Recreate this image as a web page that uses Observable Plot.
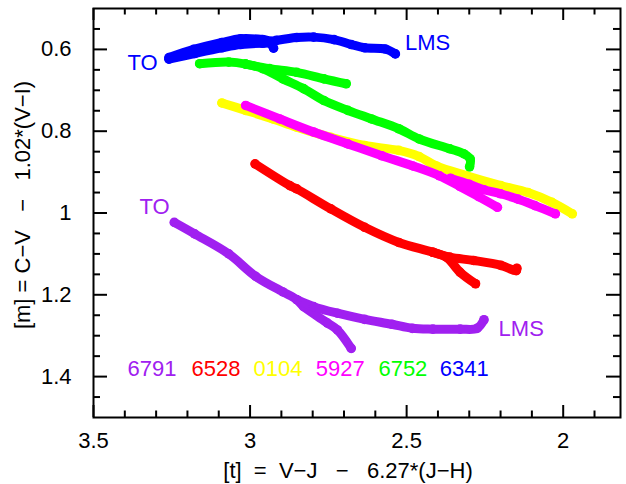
<!DOCTYPE html>
<html>
<head>
<meta charset="utf-8">
<script src="https://cdn.jsdelivr.net/npm/d3@7"></script>
<script src="https://cdn.jsdelivr.net/npm/@observablehq/plot@0.6"></script>
<style>
  html, body { margin: 0; padding: 0; background: #fff; }
  svg { display: block; }
</style>
</head>
<body>
<div id="chart"></div>
<script>
// ---- Data ----
const clusterNames  = ["6791", "6528", "0104", "5927", "6752", "6341"];
const clusterColors = ["#a020f0", "#ff0000", "#ffff00", "#ff00ff", "#00ff00", "#0000ff"];
const legendX = [3.313, 3.109, 2.911, 2.712, 2.512, 2.316];
const legendY = 1.382;

// NGC 6341 (blue): two strands
const track6341a = [[3.259,0.620],[3.180,0.600],[3.090,0.583],[3.030,0.574],[2.960,0.576],[2.930,0.580],[2.916,0.578],[2.851,0.571],[2.797,0.570],[2.732,0.576],[2.677,0.588],[2.634,0.596],[2.568,0.599],[2.536,0.611]];
const track6341b = [[3.259,0.624],[3.177,0.610],[3.090,0.596],[3.030,0.588],[2.960,0.585],[2.935,0.586],[2.925,0.597]];
// NGC 6752 (green)
const track6752a = [[3.161,0.635],[3.068,0.631],[3.014,0.636],[2.960,0.647],[2.895,0.672],[2.829,0.696],[2.764,0.725],[2.688,0.749],[2.612,0.770],[2.525,0.794],[2.460,0.819],[2.362,0.843],[2.318,0.855],[2.297,0.868],[2.299,0.887]];
const track6752b = [[3.014,0.636],[2.938,0.647],[2.851,0.656],[2.764,0.672],[2.693,0.684]];
// 47 Tuc / NGC 0104 (yellow)
const track0104  = [[3.090,0.731],[3.014,0.749],[2.927,0.770],[2.851,0.790],[2.742,0.815],[2.634,0.835],[2.525,0.847],[2.460,0.862],[2.405,0.885],[2.308,0.909],[2.199,0.933],[2.112,0.950],[2.036,0.974],[1.971,1.002]];
// NGC 5927 (magenta)
const track5927a = [[3.014,0.737],[2.905,0.770],[2.797,0.802],[2.688,0.831],[2.579,0.860],[2.480,0.885],[2.395,0.909],[2.330,0.935],[2.270,0.960],[2.210,0.986]];
const track5927b = [[2.360,0.915],[2.300,0.930],[2.253,0.943],[2.200,0.953],[2.145,0.966],[2.090,0.982],[2.025,1.002]];
// NGC 6528 (red)
const track6528a = [[2.984,0.880],[2.873,0.933],[2.851,0.941],[2.742,0.990],[2.634,1.035],[2.525,1.072],[2.416,1.096],[2.373,1.108],[2.329,1.145],[2.280,1.173]];
const track6528b = [[2.416,1.096],[2.362,1.108],[2.286,1.116],[2.199,1.128],[2.150,1.141],[2.148,1.135]];
// NGC 6791 (purple)
const track6791a = [[3.242,1.023],[3.177,1.051],[3.068,1.100],[2.982,1.155],[2.895,1.193],[2.851,1.212],[2.829,1.229],[2.753,1.269],[2.721,1.286],[2.677,1.331]];
const track6791b = [[2.851,1.212],[2.797,1.229],[2.721,1.245],[2.634,1.260],[2.547,1.272],[2.482,1.282],[2.416,1.284],[2.329,1.284],[2.275,1.282],[2.253,1.261]];

// annotations
const annotText  = ["TO", "LMS", "TO", "LMS"];
const annotX     = [3.343, 2.433, 3.305, 2.134];
const annotY     = [0.633, 0.584, 0.985, 1.284];
const annotColor = ["#0000ff", "#0000ff", "#a020f0", "#a020f0"];

// axes
const xMajor = [3.5, 3, 2.5, 2];
const xMinor = [3.4, 3.3, 3.2, 3.1, 2.9, 2.8, 2.7, 2.6, 2.4, 2.3, 2.2, 2.1, 1.9];
const yMajor = [0.6, 0.8, 1, 1.2, 1.4];
const yMinor = [0.55, 0.65, 0.7, 0.75, 0.85, 0.9, 0.95, 1.05, 1.1, 1.15, 1.25, 1.3, 1.35, 1.45];
const xLabel = "[t]\u00a0 =\u00a0 V\u2212J\u00a0\u00a0 \u2212\u00a0\u00a0 6.27*(J\u2212H)";
const yLabel = "[m] = C\u2212V\u00a0\u00a0 \u2212\u00a0\u00a0 1.02*(V\u2212I)";

// ---- Build table ----
const colorOf = name => clusterColors[clusterNames.indexOf(name)];
const tracks = [
  ["0104", "a", track0104],
  ["5927", "a", track5927a], ["5927", "b", track5927b],
  ["6752", "a", track6752a], ["6752", "b", track6752b],
  ["6341", "a", track6341a], ["6341", "b", track6341b],
  ["6528", "a", track6528a], ["6528", "b", track6528b],
  ["6791", "a", track6791a], ["6791", "b", track6791b]
];
const rows = tracks.flatMap(([c, b, pts]) => pts.map(([x, y]) => ({cluster: c, branch: c + b, x, y, color: colorOf(c)})));
const legend = clusterNames.map((n, i) => ({text: n, x: legendX[i], y: legendY, color: clusterColors[i]}));
const annots = annotText.map((t, i) => ({text: t, x: annotX[i], y: annotY[i], color: annotColor[i]}));

const W = 626, H = 484, mL = 93, mR = 6, mT = 8, mB = 67;
const pW = W - mL - mR, pH = H - mT - mB;

const marks = [];
for (const [c, b] of tracks) {
  const sub = rows.filter(r => r.branch === c + b);
  marks.push(Plot.line(sub, {x: "x", y: "y", stroke: colorOf(c), strokeWidth: 9, strokeLinecap: "round", strokeLinejoin: "round", curve: "catmull-rom"}));
  marks.push(Plot.dot(sub, {x: "x", y: "y", r: 4.8, fill: colorOf(c), stroke: "none"}));
}

const chart = Plot.plot({
  width: W, height: H,
  marginLeft: mL, marginRight: mR, marginTop: mT, marginBottom: mB,
  x: {domain: [3.5, 1.817]},
  y: {domain: [1.5, 0.5]},
  style: {fontFamily: "'Liberation Sans', Arial, sans-serif", fontSize: "22px", background: "#fff", color: "#000"},
  marks: [
    ...marks,
    Plot.text(annots, {x: "x", y: "y", text: "text", fill: "color", fontSize: 22}),
    Plot.text(legend, {x: "x", y: "y", text: "text", fill: "color", fontSize: 22}),
    // inward ticks on all four sides
    Plot.ruleX(xMajor, {x: d => d, insetTop: pH - 12, strokeWidth: 2}),
    Plot.ruleX(xMajor, {x: d => d, insetBottom: pH - 12, strokeWidth: 2}),
    Plot.ruleX(xMinor, {x: d => d, insetTop: pH - 6.5, strokeWidth: 2}),
    Plot.ruleX(xMinor, {x: d => d, insetBottom: pH - 6.5, strokeWidth: 2}),
    Plot.ruleY(yMajor, {y: d => d, insetRight: pW - 14, strokeWidth: 2}),
    Plot.ruleY(yMajor, {y: d => d, insetLeft: pW - 14, strokeWidth: 2}),
    Plot.ruleY(yMinor, {y: d => d, insetRight: pW - 7, strokeWidth: 2}),
    Plot.ruleY(yMinor, {y: d => d, insetLeft: pW - 7, strokeWidth: 2}),
    Plot.frame({stroke: "#000", strokeWidth: 2}),
    Plot.axisX({ticks: xMajor, tickSize: 0, tickPadding: 15, tickFormat: d => String(d), label: null, fontSize: 22}),
    Plot.axisY({ticks: yMajor, tickSize: 0, tickPadding: 22, tickFormat: d => String(d), label: null, fontSize: 22}),
    Plot.text([xLabel], {frameAnchor: "bottom", textAnchor: "middle", lineAnchor: "middle", text: d => d, dy: 53, dx: -9, fontSize: 22}),
    Plot.text([yLabel], {frameAnchor: "left", textAnchor: "middle", lineAnchor: "middle", text: d => d, rotate: -90, dx: -71, dy: -8, fontSize: 22})
  ]
});
document.getElementById("chart").appendChild(chart);
</script>
</body>
</html>
